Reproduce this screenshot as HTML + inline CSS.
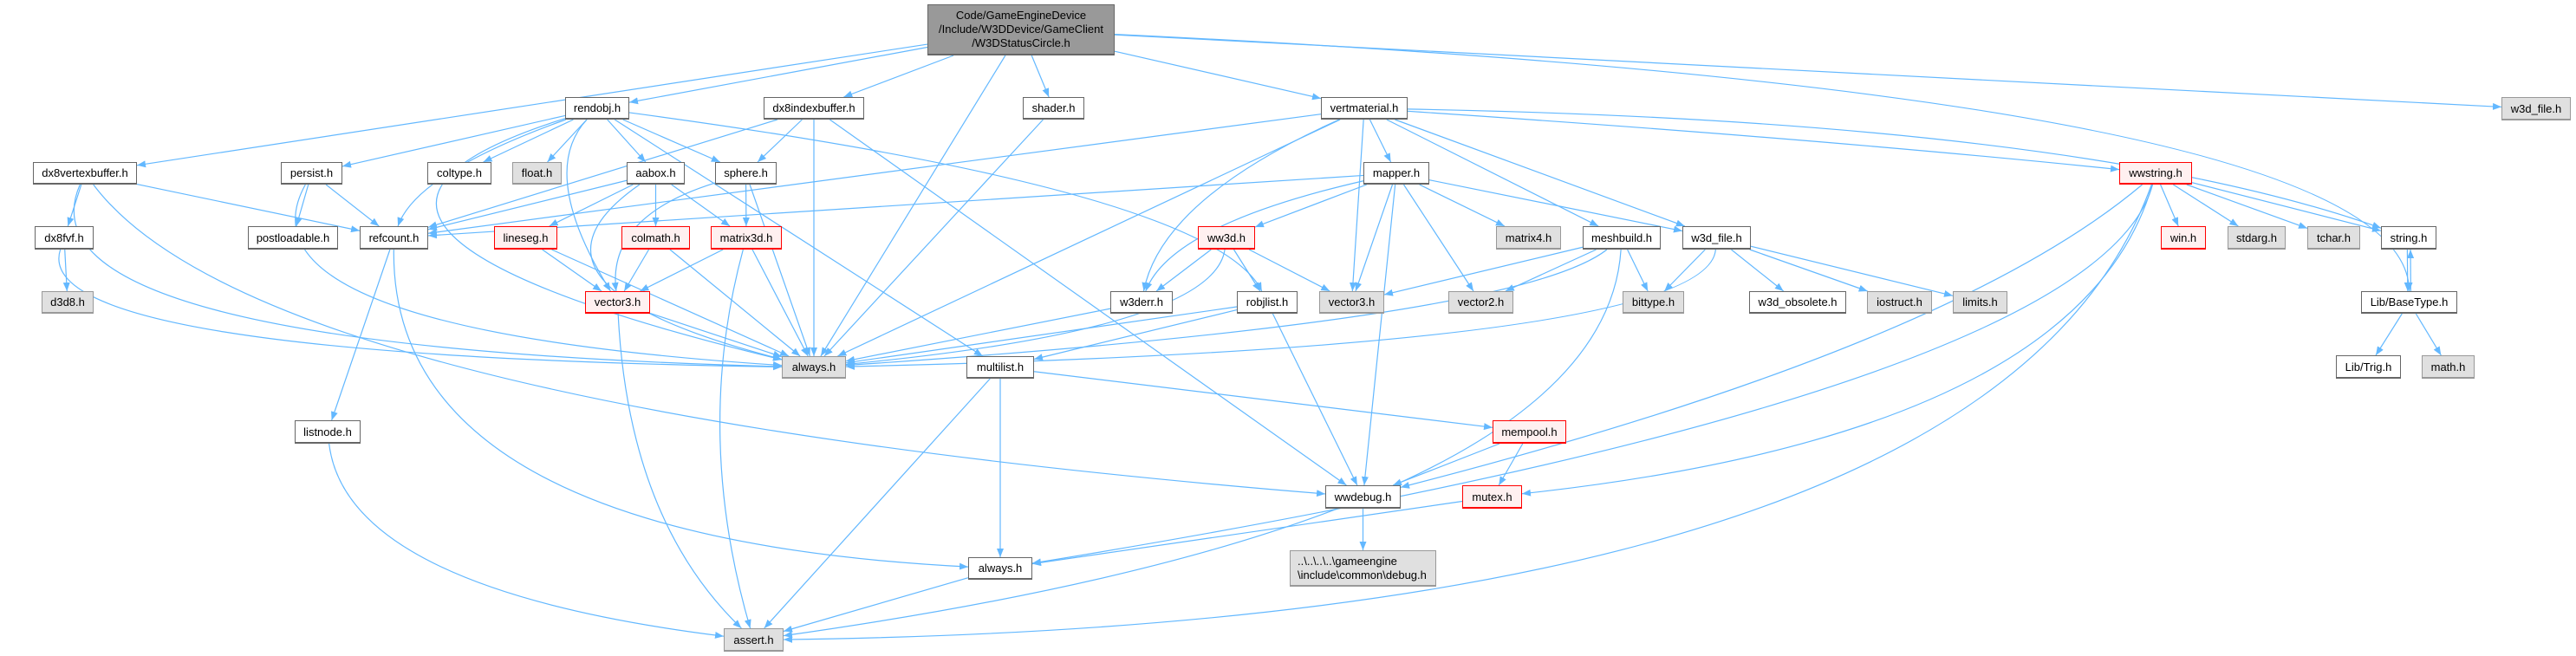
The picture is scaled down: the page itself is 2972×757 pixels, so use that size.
<!DOCTYPE html>
<html><head><meta charset="utf-8"><style>
html,body{margin:0;padding:0;background:#fff;}
#c{position:relative;width:2972px;height:757px;overflow:hidden;font-family:"Liberation Sans",sans-serif;font-size:13px;color:#000;}
.n{position:absolute;box-sizing:border-box;background:#fff;border:1px solid #666;border-bottom-width:2px;display:flex;align-items:center;justify-content:center;white-space:nowrap;}
.g{background:#e0e0e0;border-color:#999;}
.r{background:#fff0f0;border-color:#f00;}
.m{background:#999;border-color:#666;flex-direction:column;line-height:16px;}
svg{position:absolute;left:0;top:0;}
</style></head><body><div id="c">
<svg id="s" width="2972" height="757"><defs><marker id="a" markerUnits="userSpaceOnUse" markerWidth="10" markerHeight="8" refX="10" refY="4" orient="auto"><path d="M0,0 L10,4 L0,8 z" fill="#63b8ff"/></marker></defs><g id="e" fill="none" stroke="#63b8ff" stroke-width="1.2"></g></svg>
<div id="nodes"></div>
<div class="n m" style="left:1070px;top:5px;width:216px;height:59px"><span>Code/GameEngineDevice</span><span>/Include/W3DDevice/GameClient</span><span>/W3DStatusCircle.h</span></div>
<div class="n" style="left:652px;top:112px;width:74px;height:26px">rendobj.h</div>
<div class="n" style="left:881px;top:112px;width:116px;height:26px">dx8indexbuffer.h</div>
<div class="n" style="left:1180px;top:112px;width:71px;height:26px">shader.h</div>
<div class="n" style="left:1524px;top:112px;width:100px;height:26px">vertmaterial.h</div>
<div class="n g" style="left:2886px;top:112px;width:80px;height:27px">w3d_file.h</div>
<div class="n" style="left:38px;top:187px;width:120px;height:26px">dx8vertexbuffer.h</div>
<div class="n" style="left:324px;top:187px;width:71px;height:26px">persist.h</div>
<div class="n" style="left:493px;top:187px;width:74px;height:26px">coltype.h</div>
<div class="n g" style="left:591px;top:187px;width:57px;height:26px">float.h</div>
<div class="n" style="left:723px;top:187px;width:67px;height:26px">aabox.h</div>
<div class="n" style="left:825px;top:187px;width:71px;height:26px">sphere.h</div>
<div class="n" style="left:1573px;top:187px;width:76px;height:26px">mapper.h</div>
<div class="n r" style="left:2445px;top:187px;width:84px;height:26px">wwstring.h</div>
<div class="n" style="left:40px;top:261px;width:68px;height:27px">dx8fvf.h</div>
<div class="n" style="left:286px;top:261px;width:104px;height:27px">postloadable.h</div>
<div class="n" style="left:415px;top:261px;width:79px;height:27px">refcount.h</div>
<div class="n r" style="left:570px;top:261px;width:73px;height:27px">lineseg.h</div>
<div class="n r" style="left:717px;top:261px;width:79px;height:27px">colmath.h</div>
<div class="n r" style="left:820px;top:261px;width:82px;height:27px">matrix3d.h</div>
<div class="n r" style="left:1382px;top:261px;width:66px;height:27px">ww3d.h</div>
<div class="n g" style="left:1726px;top:261px;width:75px;height:27px">matrix4.h</div>
<div class="n" style="left:1826px;top:261px;width:90px;height:27px">meshbuild.h</div>
<div class="n" style="left:1941px;top:261px;width:79px;height:27px">w3d_file.h</div>
<div class="n r" style="left:2493px;top:261px;width:52px;height:27px">win.h</div>
<div class="n g" style="left:2570px;top:261px;width:67px;height:27px">stdarg.h</div>
<div class="n g" style="left:2662px;top:261px;width:61px;height:27px">tchar.h</div>
<div class="n" style="left:2747px;top:261px;width:64px;height:27px">string.h</div>
<div class="n g" style="left:48px;top:336px;width:60px;height:26px">d3d8.h</div>
<div class="n r" style="left:675px;top:336px;width:75px;height:26px">vector3.h</div>
<div class="n" style="left:1281px;top:336px;width:72px;height:26px">w3derr.h</div>
<div class="n" style="left:1427px;top:336px;width:70px;height:26px">robjlist.h</div>
<div class="n g" style="left:1522px;top:336px;width:75px;height:26px">vector3.h</div>
<div class="n g" style="left:1671px;top:336px;width:75px;height:26px">vector2.h</div>
<div class="n g" style="left:1872px;top:336px;width:71px;height:26px">bittype.h</div>
<div class="n" style="left:2018px;top:336px;width:112px;height:26px">w3d_obsolete.h</div>
<div class="n g" style="left:2154px;top:336px;width:75px;height:26px">iostruct.h</div>
<div class="n g" style="left:2253px;top:336px;width:63px;height:26px">limits.h</div>
<div class="n" style="left:2724px;top:336px;width:111px;height:26px">Lib/BaseType.h</div>
<div class="n g" style="left:902px;top:411px;width:74px;height:26px">always.h</div>
<div class="n" style="left:1115px;top:411px;width:78px;height:26px">multilist.h</div>
<div class="n" style="left:2695px;top:410px;width:75px;height:27px">Lib/Trig.h</div>
<div class="n g" style="left:2794px;top:410px;width:61px;height:27px">math.h</div>
<div class="n" style="left:340px;top:485px;width:76px;height:27px">listnode.h</div>
<div class="n r" style="left:1722px;top:485px;width:85px;height:27px">mempool.h</div>
<div class="n" style="left:1529px;top:560px;width:87px;height:27px">wwdebug.h</div>
<div class="n r" style="left:1687px;top:560px;width:69px;height:27px">mutex.h</div>
<div class="n g" style="left:1488px;top:635px;width:169px;height:42px;flex-direction:column;align-items:flex-start;padding-left:8px;line-height:16px"><span>..\..\..\..\gameengine</span><span>\include\common\debug.h</span></div>
<div class="n" style="left:1117px;top:643px;width:74px;height:26px">always.h</div>
<div class="n g" style="left:835px;top:725px;width:69px;height:27px">assert.h</div>
</div>
<script>
var N={main:[1070,1286,5,64],rendobj:[652,726,112,138],dx8ib:[881,997,112,138],shader:[1180,1251,112,138],vertmat:[1524,1624,112,138],w3dfileg:[2886,2966,112,139],dx8vb:[38,158,187,213],persist:[324,395,187,213],coltype:[493,567,187,213],float:[591,648,187,213],aabox:[723,790,187,213],sphere:[825,896,187,213],mapper:[1573,1649,187,213],wwstring:[2445,2529,187,213],dx8fvf:[40,108,261,288],postload:[286,390,261,288],refcount:[415,494,261,288],lineseg:[570,643,261,288],colmath:[717,796,261,288],matrix3d:[820,902,261,288],ww3d:[1382,1448,261,288],matrix4:[1726,1801,261,288],meshbuild:[1826,1916,261,288],w3dfile:[1941,2020,261,288],win:[2493,2545,261,288],stdarg:[2570,2637,261,288],tchar:[2662,2723,261,288],string:[2747,2811,261,288],d3d8:[48,108,336,362],vector3r:[675,750,336,362],w3derr:[1281,1353,336,362],robjlist:[1427,1497,336,362],vector3g:[1522,1597,336,362],vector2:[1671,1746,336,362],bittype:[1872,1943,336,362],w3dobs:[2018,2130,336,362],iostruct:[2154,2229,336,362],limits:[2253,2316,336,362],basetype:[2724,2835,336,362],alwaysg:[902,976,411,437],multilist:[1115,1193,411,437],trig:[2695,2770,410,437],math:[2794,2855,410,437],listnode:[340,416,485,512],mempool:[1722,1807,485,512],wwdebug:[1529,1616,560,587],mutex:[1687,1756,560,587],debug:[1488,1657,635,677],alwaysw:[1117,1191,643,669],assert:[835,904,725,752]};
var E=[["main","rendobj"],["main","dx8vb"],["main","dx8ib"],["main","shader"],["main","vertmat"],["main","alwaysg"],["main","w3dfileg"],["main","basetype",[2780,110]],
["rendobj","persist"],["rendobj","coltype"],["rendobj","float"],["rendobj","aabox"],["rendobj","sphere"],["rendobj","refcount",[480,200]],["rendobj","alwaysg",[260,260]],["rendobj","multilist"],["rendobj","robjlist",[1400,220]],["rendobj","vector3r",[620,200]],
["dx8ib","refcount"],["dx8ib","sphere"],["dx8ib","alwaysg"],["dx8ib","wwdebug"],
["dx8vb","dx8fvf"],["dx8vb","refcount"],["dx8vb","alwaysg",[10,400]],["dx8vb","wwdebug",[300,470]],
["persist","postload"],["persist","refcount"],["persist","alwaysg",[260,380]],
["aabox","lineseg"],["aabox","colmath"],["aabox","matrix3d"],["aabox","refcount"],["aabox","alwaysg",[570,330]],
["sphere","matrix3d"],["sphere","vector3r",[700,250]],["sphere","alwaysg"],
["dx8fvf","d3d8"],["dx8fvf","alwaysg",[30,410]],["refcount","listnode"],["refcount","alwaysw",[450,620]],
["lineseg","vector3r"],["lineseg","alwaysg"],["colmath","vector3r"],["colmath","alwaysg"],["matrix3d","vector3r"],["matrix3d","alwaysg"],["matrix3d","assert",[800,500]],
["vector3r","alwaysg"],["vector3r","assert",[725,600]],["listnode","assert",[400,680]],["shader","alwaysg"],
["vertmat","refcount"],["vertmat","mapper"],["vertmat","w3derr",[1340,230]],["vertmat","alwaysg",[1200,300]],["vertmat","vector3g"],["vertmat","meshbuild"],["vertmat","w3dfile"],["vertmat","wwstring",[2100,160]],["vertmat","string",[2400,140]],
["mapper","refcount"],["mapper","ww3d"],["mapper","w3derr",[1350,260]],["mapper","matrix4"],["mapper","vector3g"],["mapper","vector2"],["mapper","w3dfile"],["mapper","wwdebug"],
["ww3d","w3derr"],["ww3d","robjlist"],["ww3d","vector3g"],["ww3d","alwaysg",[1400,380]],["w3derr","alwaysg"],
["robjlist","alwaysg"],["robjlist","multilist"],["robjlist","wwdebug"],
["meshbuild","vector3g"],["meshbuild","vector2"],["meshbuild","bittype"],["meshbuild","alwaysg",[1750,370]],["meshbuild","assert",[1850,600]],
["w3dfile","bittype"],["w3dfile","w3dobs"],["w3dfile","iostruct"],["w3dfile","limits"],["w3dfile","alwaysg",[1970,400]],
["multilist","mempool"],["multilist","alwaysw"],["multilist","assert"],["mempool","wwdebug"],["mempool","mutex"],["mutex","alwaysw"],["wwdebug","debug"],
["wwstring","win"],["wwstring","stdarg"],["wwstring","tchar"],["wwstring","string"],["wwstring","wwdebug",[2250,400]],["wwstring","mutex",[2400,500]],["wwstring","alwaysw",[2420,450]],["wwstring","assert",[2300,720]],
["string","basetype"],["basetype","string"],["basetype","trig"],["basetype","math"],["alwaysw","assert"]];
function ex(r,px,py){var cx=(r[0]+r[1])/2,cy=(r[2]+r[3])/2,dx=px-cx,dy=py-cy,hw=(r[1]-r[0])/2,hh=(r[3]-r[2])/2;var t=Math.min(dx?hw/Math.abs(dx):1e9,dy?hh/Math.abs(dy):1e9);if(t>1)t=1;return[cx+dx*t,cy+dy*t];}
var g=document.getElementById('e'),h='';
E.forEach(function(e){var a=N[e[0]],b=N[e[1]],ac=[(a[0]+a[1])/2,(a[2]+a[3])/2],bc=[(b[0]+b[1])/2,(b[2]+b[3])/2];var c=e[2];
if(e[0]=='string'){ac=[2770,275];bc=[2770,349];} if(e[0]=='basetype'&&e[1]=='string'){ac=[2790,349];bc=[2790,275];}
var p1=ex(a,c?c[0]:bc[0],c?c[1]:bc[1]),p2=ex(b,c?c[0]:ac[0],c?c[1]:ac[1]);
if(c)h+='<path d="M'+p1[0]+','+p1[1]+' Q'+c[0]+','+c[1]+' '+p2[0]+','+p2[1]+'" marker-end="url(#a)"/>';
else h+='<path d="M'+p1[0]+','+p1[1]+' L'+p2[0]+','+p2[1]+'" marker-end="url(#a)"/>';});
g.innerHTML=h;
</script>
</body></html>
